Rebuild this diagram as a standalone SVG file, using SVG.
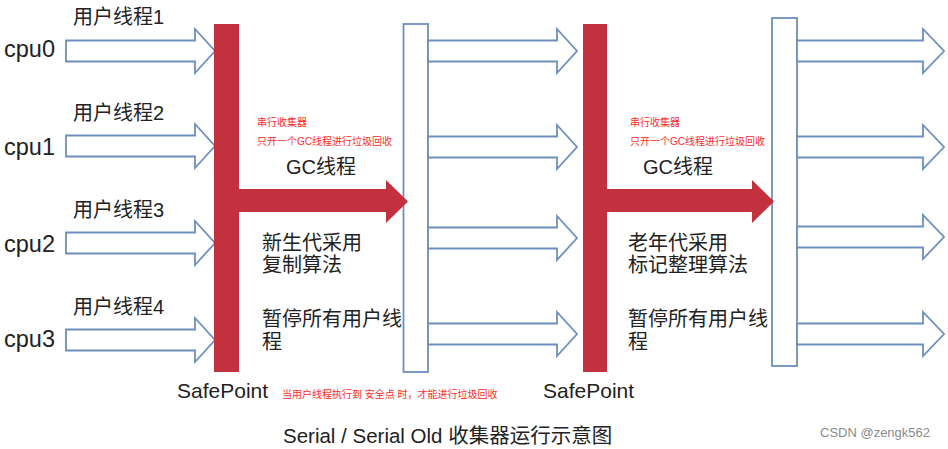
<svg xmlns="http://www.w3.org/2000/svg" xmlns:xlink="http://www.w3.org/1999/xlink" width="948" height="449" viewBox="0 0 948 449">
<style>
.t{font-family:"Liberation Sans","Noto Sans CJK SC",sans-serif;fill:#222}
.cpu{font-size:23.5px}
.ut{font-size:20px}
.big{font-size:20px}
.red{font-family:"Liberation Sans","Noto Sans CJK SC",sans-serif;font-size:10px;fill:#ff2a2a}
.ba{fill:#fff;stroke:#6d8fbd;stroke-width:1.8;stroke-linejoin:miter}
.rb{fill:#fff;stroke:#6d8fbd;stroke-width:1.8}
.rd{fill:#c3303e}
</style>
<defs>
<path id="a1" d="M0,-10.5 H129 V-22 L149,0 L129,22 V10.5 H0 Z"/>
<path id="a2" d="M0,-10.5 H126 V-22 L147,0 L126,22 V10.5 H0 Z"/>
</defs>
<rect width="948" height="449" fill="#fff"/>
<g id="sync1">
  <rect class="rb" x="403.5" y="24" width="24.5" height="348"/>
</g>
<g id="sync2">
  <rect class="rb" x="772" y="18" width="25" height="348"/>
</g>
<g id="connectors">
  <g class="ba">
    <use xlink:href="#a1" x="66" y="51"/>
    <use xlink:href="#a1" x="66" y="146"/>
    <use xlink:href="#a1" x="66" y="243"/>
    <use xlink:href="#a1" x="66" y="340"/>
    <use xlink:href="#a1" x="428" y="51"/>
    <use xlink:href="#a1" x="428" y="147"/>
    <use xlink:href="#a1" x="428" y="238"/>
    <use xlink:href="#a1" x="428" y="334"/>
    <use xlink:href="#a2" x="797" y="51"/>
    <use xlink:href="#a2" x="797" y="147"/>
    <use xlink:href="#a2" x="797" y="237"/>
    <use xlink:href="#a2" x="797" y="334"/>
  </g>
</g>
<g id="safepoint1">
  <path class="rd" d="M214,24 H239 V189 H386 V180 L408,201.5 L386,223 V212 H239 V372 H214 Z"/>
  <text class="t" x="177" y="398" font-size="21">SafePoint</text>
</g>
<g id="safepoint2">
  <path class="rd" d="M583,24 H607 V189 H752 V180 L774,201.5 L752,223 V212 H607 V372 H583 Z"/>
  <text class="t" x="543" y="398" font-size="21">SafePoint</text>
</g>
<g id="cpus">
  <text class="t cpu" x="4" y="57">cpu0</text>
  <text class="t cpu" x="4" y="155">cpu1</text>
  <text class="t cpu" x="4" y="252">cpu2</text>
  <text class="t cpu" x="4" y="347">cpu3</text>
  <text class="t ut" x="73" y="24">用户线程1</text>
  <text class="t ut" x="73" y="120">用户线程2</text>
  <text class="t ut" x="73" y="217">用户线程3</text>
  <text class="t ut" x="73" y="314">用户线程4</text>
</g>
<g id="gc1">
  <text class="red" x="257" y="126">串行收集器</text>
  <text class="red" x="257" y="145">只开一个GC线程进行垃圾回收</text>
  <text class="t big" x="286" y="174">GC线程</text>
  <text class="t big" x="262" y="250">新生代采用</text>
  <text class="t big" x="262" y="272">复制算法</text>
  <text class="t big" x="262" y="326">暂停所有用户线</text>
  <text class="t big" x="262" y="349">程</text>
</g>
<g id="gc2">
  <text class="red" x="630" y="126">串行收集器</text>
  <text class="red" x="630" y="145">只开一个GC线程进行垃圾回收</text>
  <text class="t big" x="643" y="174">GC线程</text>
  <text class="t big" x="628" y="250">老年代采用</text>
  <text class="t big" x="628" y="272">标记整理算法</text>
  <text class="t big" x="628" y="326">暂停所有用户线</text>
  <text class="t big" x="628" y="349">程</text>
</g>
<g id="notes">
  <text class="red" x="282" y="398">当用户线程执行到 安全点 时，才能进行垃圾回收</text>
  <text class="t" x="283" y="443" font-size="20.5">Serial / Serial Old 收集器运行示意图</text>
  <text x="820" y="437" font-family="Liberation Sans,Noto Sans CJK SC,sans-serif" font-size="13" fill="#8a8a8a">CSDN @zengk562</text>
</g>
</svg>
